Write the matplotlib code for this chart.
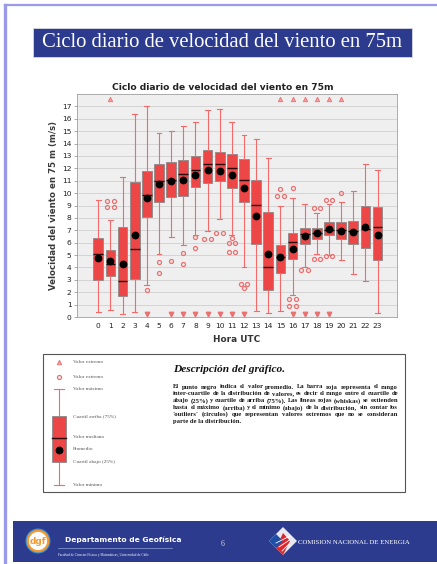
import matplotlib
matplotlib.use("Agg")
import matplotlib.pyplot as plt
from matplotlib.patches import Rectangle, Circle, Polygon

W, H = 437, 564
DPI = 100

# ── datos (m/s) ──
horas = list(range(24))
q1 = [2.98, 3.31, 1.70, 3.07, 8.07, 9.25, 9.68, 9.79, 10.48, 10.81, 10.97, 10.40,
      9.27, 5.86, 2.15, 3.55, 4.68, 5.92, 6.29, 6.64, 6.29, 5.86, 5.60, 4.63]
medianas = [5.06, 4.30, 2.88, 5.46, 9.84, 10.94, 11.02, 11.56, 11.89, 12.31, 12.31, 12.02,
            11.08, 9.06, 4.03, 4.84, 6.05, 6.72, 6.77, 6.99, 6.99, 6.94, 7.07, 7.26]
q3 = [6.37, 5.38, 7.26, 10.86, 11.78, 12.37, 12.48, 12.64, 12.96, 13.44, 13.34, 13.18,
      12.77, 11.08, 8.47, 5.81, 6.77, 7.20, 7.20, 7.66, 7.66, 7.72, 8.95, 8.85]
medias = [4.73, 4.49, 4.30, 6.59, 9.60, 10.70, 10.94, 11.08, 11.48, 11.83, 11.80, 11.45,
          10.40, 8.15, 5.05, 4.82, 5.46, 6.50, 6.80, 7.07, 6.96, 6.90, 7.29, 6.59]
bigote_max = [9.41, 7.85, 11.30, 16.40, 17.05, 14.84, 15.00, 15.43, 15.76, 16.72, 16.80, 15.76,
              14.73, 14.38, 12.85, 8.95, 9.63, 9.14, 8.39, 9.14, 9.30, 10.14, 12.31, 11.83]
bigote_min = [0.40, 0.54, 0.27, 0.40, 2.61, 5.11, 6.43, 5.84, 6.62, 6.94, 7.90, 6.64,
              4.03, 0.46, 0.32, 0.46, 1.75, 4.03, 5.05, 5.03, 4.57, 3.50, 2.93, 0.32]
# outliers (círculos); valores repetidos se dibujan lado a lado
outliers = [
    [], [9.4, 9.4, 8.9, 8.9], [], [], [2.15], [4.4, 3.55], [4.55], [5.15, 4.3],
    [6.45, 5.6], [6.3, 6.3], [6.8, 6.8], [6.4, 5.97, 5.97, 5.22, 5.22],
    [2.69, 2.69, 2.34], [], [], [10.3, 9.73, 9.73], [10.38, 1.45, 1.45, 0.89, 0.89],
    [3.77, 3.77], [8.77, 8.77, 4.71, 4.71], [9.41, 9.41, 4.92, 4.92], [10.03], [], [], [],
]
# valores extremos fuera de escala (triángulos)
extremo_arriba = [1, 15, 16, 17, 18, 19, 20]
extremo_abajo = [4, 6, 7, 8, 9, 10, 11, 12, 16, 17, 18, 19]

descripcion = [
    "El punto negro indica el valor promedio. La barra roja representa el rango",
    "inter-cuartile de la distribución de valores, es decir el rango entre el cuartile de",
    "abajo (25%) y cuartile de arriba (75%). Las lineas rojas (whiskas) se extienden",
    "hasta el máximo (arriba) y el mínimo (abajo) de la distribución, sin contar los",
    "`outliers` (circulos) que representan valores extremos que no se consideran",
    "parte de la distribución.",
]

ROJO = "#ec4646"
BIGOTE = "#f26a6a"
OUT = "#ec7070"
AZUL = "#2c3b8e"

fig = plt.figure(figsize=(W / DPI, H / DPI), dpi=DPI)
fig.patch.set_facecolor("white")

# ── capa de página (coordenadas en píxeles) ──
pg = fig.add_axes([0, 0, 1, 1])
pg.set_xlim(0, W)
pg.set_ylim(H, 0)
pg.axis("off")
pg.set_zorder(0)

pg.plot([5, W], [5, 5], color="#9a9ae8", lw=1.6)
pg.plot([5, 5], [5, H], color="#9a9ae8", lw=2.4)

pg.add_patch(Rectangle((33, 28), 379, 29, facecolor=AZUL, edgecolor="#d8d8e0", lw=0.6))
pg.text(222.5, 42.5, "Ciclo diario de velocidad del viento en 75m", color="white",
        fontsize=14.9, family="Liberation Serif", ha="center", va="center")

pg.text(223, 88, "Ciclo diario de velocidad del viento en 75m", fontsize=6.6,
        fontweight="bold", ha="center", va="center", color="#222222")

# ── gráfico de cajas ──
ax = fig.add_axes([77 / W, 1 - 317 / H, 320 / W, 223 / H])
ax.set_zorder(1)
ax.set_facecolor("#efefef")

stats = []
for i in horas:
    stats.append(dict(med=medianas[i], q1=q1[i], q3=q3[i], whislo=bigote_min[i],
                      whishi=bigote_max[i], mean=medias[i], fliers=[]))
ax.bxp(stats, positions=horas, widths=0.8, patch_artist=True, showmeans=True,
       showfliers=False,
       boxprops=dict(facecolor=ROJO, edgecolor="#8a8a8a", linewidth=0.6),
       medianprops=dict(color="#2a0808", linewidth=1.0),
       whiskerprops=dict(color=BIGOTE, linewidth=0.8),
       capprops=dict(color=BIGOTE, linewidth=0.8),
       meanprops=dict(marker="o", markerfacecolor="black", markeredgecolor="black",
                      markersize=4.6))

for i, vals in enumerate(outliers):
    vistos = {}
    for v in vals:
        vistos[v] = vistos.get(v, 0) + 1
    for v, n in vistos.items():
        dx = [0.0] if n == 1 else [-0.27, 0.27]
        for d in dx:
            ax.plot(i + d, v, marker="o", markersize=2.9, markerfacecolor="none",
                    markeredgecolor=OUT, markeredgewidth=0.9, linestyle="none")

ax.plot(extremo_arriba, [17.62] * len(extremo_arriba), marker="^", markersize=3.2,
        markerfacecolor="#f4a0a0", markeredgecolor=OUT, markeredgewidth=0.6, linestyle="none")
ax.plot(extremo_abajo, [0.27] * len(extremo_abajo), marker="v", markersize=3.2,
        markerfacecolor=OUT, markeredgecolor=OUT, linestyle="none")

ax.set_xlim(-1.75, 24.6)
ax.set_ylim(0, 18)
ax.set_yticks(range(0, 18))
ax.set_xticks(horas)
ax.set_xticklabels([str(h) for h in horas])
ax.grid(axis="y", color="#cfcfcf", linewidth=0.6)
ax.set_axisbelow(True)
ax.tick_params(axis="both", labelsize=5.4, length=2, width=0.5, color="#888888",
               labelcolor="#222222", pad=2)
ax.tick_params(axis="x", length=0, pad=4)
for s in ax.spines.values():
    s.set_color("#a0a0a0")
    s.set_linewidth(0.6)
ax.set_xlabel("Hora UTC", fontsize=6.4, fontweight="bold", color="#333333", labelpad=5)
ax.set_ylabel("Velocidad del viento en 75 m (m/s)", fontsize=6.2, fontweight="bold",
              color="#3a3a3a", labelpad=3)

# ── recuadro de descripción ──
pg.add_patch(Rectangle((43, 354), 362, 138, facecolor="white", edgecolor="#555555", lw=0.8))

# leyenda dibujada
xl = 59
pg.plot(xl, 362.3, marker="^", markersize=3.2, markerfacecolor="#f4a0a0",
        markeredgecolor=OUT, markeredgewidth=0.6)
pg.plot(xl, 376.7, marker="o", markersize=2.9, markerfacecolor="none",
        markeredgecolor=OUT, markeredgewidth=0.9)
pg.plot([xl, xl], [389.3, 485], color=BIGOTE, lw=0.8, zorder=2)
pg.plot([xl - 5, xl + 5], [389.3, 389.3], color=BIGOTE, lw=0.8)
pg.plot([xl - 5, xl + 5], [485, 485], color=BIGOTE, lw=0.8)
pg.add_patch(Rectangle((52.3, 415.7), 13.4, 46.6, facecolor=ROJO, edgecolor="#8a8a8a",
                       lw=0.6, zorder=3))
pg.plot([52.3, 65.7], [437.7, 437.7], color="#2a0808", lw=1.0, zorder=4)
pg.plot(xl, 450, marker="o", markersize=4.6, color="black", zorder=5)

etiquetas = [(362.3, "Valor extremo"), (376.7, "Valor extremo"), (389.3, "Valor máximo"),
             (415.7, "Cuartil arriba (75%)"), (436.7, "Valor mediano"), (449, "Promedio"),
             (461.7, "Cuartil abajo (25%)"), (485, "Valor mínimo")]
for y, t in etiquetas:
    pg.text(73, y, t, fontsize=3.8, family="Liberation Serif", color="#555555",
            ha="left", va="center")

pg.text(173, 370, "Descripción del gráfico.", fontsize=8.2, family="Liberation Serif",
        fontweight="bold", style="italic", ha="left", va="center", color="#111111")

# párrafo justificado
renderer = fig.canvas.get_renderer()
x0, x1 = 173, 398
kw = dict(fontsize=4.8, family="Liberation Serif", fontweight="bold", color="#1a1a1a",
          va="baseline", ha="left")
for i, linea in enumerate(descripcion):
    y = 388.5 + i * 6.9
    if i == len(descripcion) - 1:
        pg.text(x0, y, linea, **kw)
        continue
    palabras = linea.split()
    objs = [pg.text(0, y, p, **kw) for p in palabras]
    anchos = [t.get_window_extent(renderer).width for t in objs]
    hueco = (x1 - x0 - sum(anchos)) / (len(palabras) - 1)
    x = x0
    for t, a in zip(objs, anchos):
        t.set_x(x)
        x += a + hueco

# ── pie de página ──
pg.add_patch(Rectangle((13, 521), W - 13, 41, facecolor=AZUL, edgecolor="none"))
pg.add_patch(Circle((38, 541), 12.5, facecolor="#3d8fd6", edgecolor="none"))
pg.add_patch(Circle((38, 541), 10.2, facecolor="white", edgecolor="#f29a2e", lw=1.6))
pg.text(38, 541.5, "dgf", fontsize=6.5, fontweight="bold", color="#f29a2e",
        ha="center", va="center")
pg.text(65, 539.5, "Departamento de Geofísica", fontsize=5.4, fontweight="bold",
        color="white", ha="left", va="center")
pg.plot([58, 172], [548, 548], color="#8fa0d8", lw=0.5)
pg.text(58, 555, "Facultad de Ciencias Físicas y Matemáticas, Universidad de Chile",
        fontsize=2.4, family="Liberation Serif", color="white", ha="left", va="center")
pg.text(223, 543.5, "6", fontsize=5.5, family="Liberation Serif", color="#d8d8e8",
        ha="center", va="center")

# logo CNE
pg.add_patch(Polygon([(283, 527), (297, 541), (283, 555), (269, 541)],
                     facecolor="#e8e8f0", edgecolor="none"))
pg.add_patch(Polygon([(283, 533), (290, 541), (283, 555), (276, 548)],
                     facecolor="#e0242c", edgecolor="none"))
pg.add_patch(Polygon([(276, 534), (283, 541), (276, 548), (269, 541)],
                     facecolor="#1d4fa8", edgecolor="none"))
for k in range(3):
    yy = 540 + k * 4
    pg.plot([276 + k * 3, 290 - k * 0.5], [yy + 3, yy - 4], color="white", lw=0.6)
pg.text(298, 542, "COMISION NACIONAL DE ENERGIA", fontsize=4.9,
        family="Liberation Serif", color="white", ha="left", va="center")

fig.savefig("out.png", dpi=DPI, facecolor="white")
